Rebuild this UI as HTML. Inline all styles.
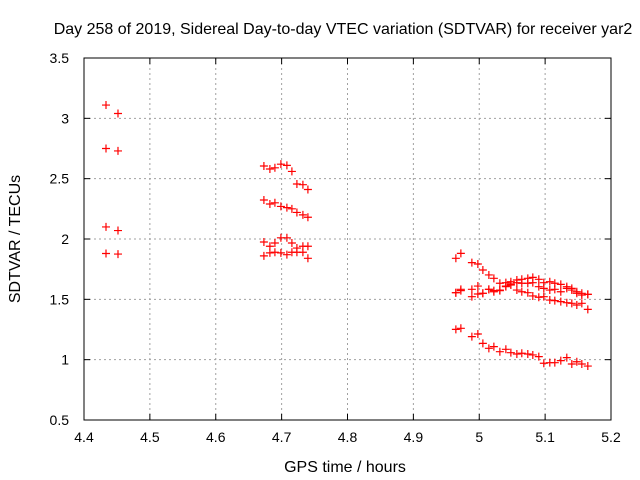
<!DOCTYPE html>
<html><head><meta charset="utf-8"><style>
body{margin:0;background:#fff;}
svg{display:block;font-family:"Liberation Sans",sans-serif;}
</style></head><body>
<svg id="chart" width="640" height="480">
<rect width="640" height="480" fill="#fff"/>
<g id="grid"></g>
<g id="axes"></g>
<g id="points"></g>
<text x="343" y="34" font-size="16" text-anchor="middle" fill="#000">Day 258 of 2019, Sidereal Day-to-day VTEC variation (SDTVAR) for receiver yar2</text>
<text x="345" y="472" font-size="16" text-anchor="middle" fill="#000">GPS time / hours</text>
<text transform="translate(20,239) rotate(-90)" font-size="16" text-anchor="middle" fill="#000">SDTVAR / TECUs</text>
</svg>
<script>
const xTicks=[4.4,4.5,4.6,4.7,4.8,4.9,5,5.1,5.2];
const xTickLabels=["4.4","4.5","4.6","4.7","4.8","4.9","5","5.1","5.2"];
const yTicks=[0.5,1,1.5,2,2.5,3,3.5];
const yTickLabels=["0.5","1","1.5","2","2.5","3","3.5"];
const timesLeft=[4.4334,4.4516];
const timesMid=[4.6731,4.6822,4.6898,4.6989,4.7080,4.7156,4.7232,4.7323,4.7399];
const timesRight=[4.9645,4.9721,4.9888,4.9979,5.0055,5.0146,5.0222,5.0313,5.0404,5.0480,5.0571,5.0646,5.0737,5.0813,5.0904,5.0980,5.1071,5.1147,5.1238,5.1329,5.1405,5.1481,5.1557,5.1648];
const left1=[3.11,3.04], left2=[2.75,2.73], left3=[2.10,2.07], left4=[1.88,1.875];
const mid1=[2.605,2.58,2.59,2.62,2.61,2.56,2.456,2.45,2.41];
const mid2=[2.323,2.29,2.30,2.27,2.26,2.25,2.22,2.2,2.18];
const mid3=[1.975,1.94,1.967,2.01,2.01,1.967,1.925,1.94,1.94];
const mid4=[1.86,1.885,1.89,1.885,1.87,1.89,1.89,1.89,1.84];
const right1=[1.840,1.881,1.804,1.793,1.743,1.702,1.674,1.633,1.638,1.646,1.660,1.666,1.674,1.682,1.666,1.638,1.646,1.633,1.624,1.605,1.591,1.563,1.550,1.541];
const right2=[1.555,1.583,1.583,1.610,1.550,1.583,1.563,1.577,1.610,1.627,1.638,1.633,1.633,1.638,1.605,1.591,1.577,1.583,1.563,1.591,1.577,1.550,1.536,1.541];
const right3=[1.555,1.572,1.522,1.544,1.550,1.583,1.572,1.572,1.605,1.619,1.577,1.563,1.555,1.528,1.517,1.522,1.494,1.489,1.481,1.472,1.467,1.453,1.467,1.417];
const right4=[1.251,1.260,1.191,1.213,1.135,1.094,1.108,1.066,1.086,1.058,1.047,1.053,1.047,1.039,1.025,0.970,0.975,0.975,0.992,1.017,0.964,0.983,0.964,0.947];

const X0=84,X1=611,Y0=420,Y1=58;
const xs=v=>X0+(v-4.4)/0.8*(X1-X0);
const ys=v=>Y0-(v-0.5)/3*(Y0-Y1);
const NS="http://www.w3.org/2000/svg";
function mk(tag,attrs,parent){const e=document.createElementNS(NS,tag);for(const k in attrs)e.setAttribute(k,attrs[k]);parent.appendChild(e);return e;}
const grid=document.getElementById('grid'),axes=document.getElementById('axes'),pts=document.getElementById('points');
xTicks.forEach((t,i)=>{
  const x=xs(t);
  if(i>0&&i<xTicks.length-1){const g=mk('line',{x1:x,x2:x,y1:Y1,y2:Y0,stroke:'#a0a0a0','stroke-dasharray':'2,3'},grid);
  
  }
  mk('line',{x1:x,x2:x,y1:Y0,y2:Y0-6,stroke:'#000'},axes);
  mk('line',{x1:x,x2:x,y1:Y1,y2:Y1+6,stroke:'#000'},axes);
  const tx=mk('text',{x:x,y:Y0+22,'font-size':14,'text-anchor':'middle',fill:'#000'},axes);
  tx.textContent=xTickLabels[i];
  
  
});
yTicks.forEach((t,i)=>{
  const y=ys(t);
  if(i>0&&i<yTicks.length-1){const g=mk('line',{x1:X0,x2:X1,y1:y,y2:y,stroke:'#a0a0a0','stroke-dasharray':'2,3'},grid);
  
  }
  mk('line',{x1:X0,x2:X0+6,y1:y,y2:y,stroke:'#000'},axes);
  mk('line',{x1:X1,x2:X1-6,y1:y,y2:y,stroke:'#000'},axes);
  const tx=mk('text',{x:69,y:y+5,'font-size':14,'text-anchor':'end',fill:'#000'},axes);
  tx.textContent=yTickLabels[i];
  
  
});
const fr=mk('rect',{x:X0,y:Y1,width:X1-X0,height:Y0-Y1,fill:'none',stroke:'#000','stroke-width':1},axes);


function plot(times,vals){
  times.forEach((t,i)=>{
    const x=xs(t),y=ys(vals[i]);
    const p=mk('path',{d:`M${x-4},${y}H${x+4}M${x},${y-4}V${y+4}`,stroke:'#ff0000','stroke-width':1.2,fill:'none'},pts);
    
    
  });
}
[left1,left2,left3,left4].forEach(s=>plot(timesLeft,s));
[mid1,mid2,mid3,mid4].forEach(s=>plot(timesMid,s));
[right1,right2,right3,right4].forEach(s=>plot(timesRight,s));
</script>
</body></html>
